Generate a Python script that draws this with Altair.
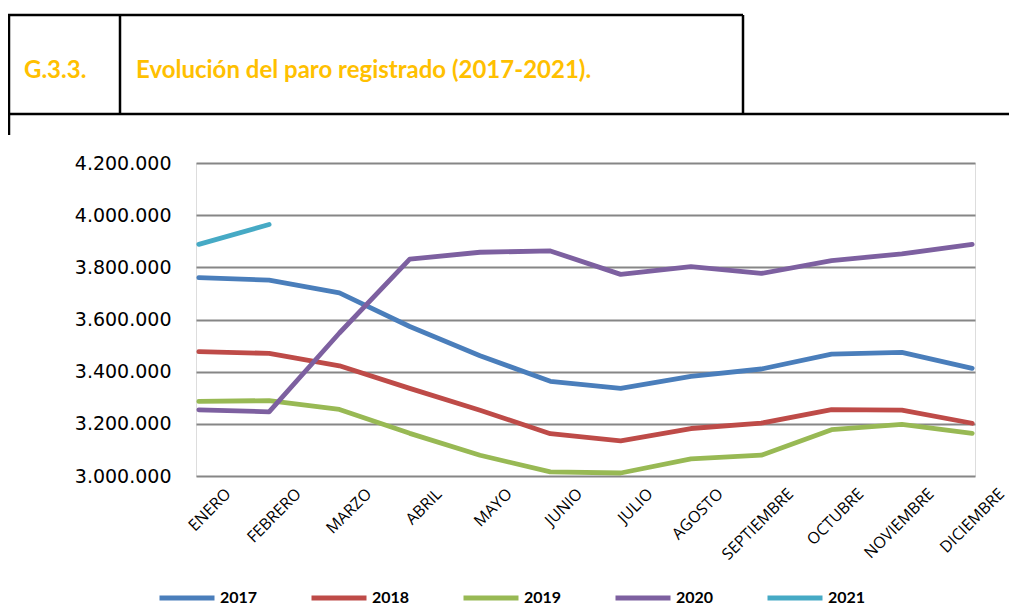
import altair as alt
import pandas as pd

months = ["ENERO", "FEBRERO", "MARZO", "ABRIL", "MAYO", "JUNIO", "JULIO",
          "AGOSTO", "SEPTIEMBRE", "OCTUBRE", "NOVIEMBRE", "DICIEMBRE"]
years = ["2017", "2018", "2019", "2020", "2021"]
colors = ["#4A7EBB", "#BE4B48", "#98B954", "#7D60A0", "#46AAC5"]

v2017 = [3760231, 3750876, 3702317, 3573036, 3461128, 3362811, 3335924,
         3382324, 3410182, 3467026, 3474281, 3412781]
v2018 = [3476528, 3470248, 3422551, 3335868, 3252130, 3162162, 3135021,
         3182068, 3202509, 3254845, 3252867, 3202297]
v2019 = [3285761, 3289040, 3255084, 3163566, 3079491, 3015686, 3011433,
         3065804, 3079711, 3177659, 3198184, 3163605]
v2020 = [3253853, 3246047, 3548312, 3831203, 3857776, 3862883, 3773034,
         3802814, 3776485, 3826043, 3851312, 3888137]
v2021 = [3888137, 3964353]

y_ticks = [3000000, 3200000, 3400000, 3600000, 3800000, 4000000, 4200000]

title_code = "G.3.3."
title_text = "Evolución del paro registrado (2017-2021)."

rows = []
for yr, vals in zip(years, [v2017, v2018, v2019, v2020, v2021]):
    for i, v in enumerate(vals):
        rows.append({"mes": months[i], "anio": yr, "valor": v, "orden": i})
df = pd.DataFrame(rows)

W, H = 779, 313

lines = alt.Chart(df).mark_line(strokeWidth=4.8, strokeCap="round", strokeJoin="round").encode(
    x=alt.X("mes:N", sort=months,
            scale=alt.Scale(type="point", padding=0.04),
            axis=alt.Axis(title=None, labelAngle=-45, labelFont="Open Sans", labelFontSize=16,
                          labelColor="#000000", labelAlign="right", labelBaseline="middle",
                          labelOffset=29, labelPadding=15, domain=False, ticks=False, grid=False)),
    y=alt.Y("valor:Q",
            scale=alt.Scale(domain=[3000000, 4200000], zero=False, nice=False),
            axis=alt.Axis(title=None, values=y_ticks, format=",d", grid=True,
                          gridColor="#868686", gridWidth=2, domain=False, ticks=False,
                          labelFont="DejaVu Sans", labelFontSize=19, labelColor="#000000",
                          labelPadding=25)),
    color=alt.Color("anio:N", scale=alt.Scale(domain=years, range=colors),
                    legend=alt.Legend(title=None, orient="none", direction="horizontal",
                                      columns=5, legendX=-39, legendY=405,
                                      symbolType="stroke", symbolSize=3025,
                                      symbolStrokeWidth=5, labelFont="Lato",
                                      labelFontWeight="bold", labelFontSize=16,
                                      labelColor="#000000", labelOffset=3,
                                      columnPadding=43, padding=0)),
    order="orden:Q",
)

one = pd.DataFrame({"k": [0]})
stroke = dict(color="#000000", strokeWidth=2.5)

def seg(x1, x2, y1, y2):
    return alt.Chart(one).mark_rule(**stroke).encode(
        x=alt.value(x1), x2=alt.value(x2), y=alt.value(y1), y2=alt.value(y2))

box = [
    seg(-188, 547, -148, -148),
    seg(-188, 813, -49, -49),
    seg(-187, -187, -148, -28),
    seg(-76, -76, -148, -49),
    seg(547, 547, -148, -49),
]

code_txt = alt.Chart(pd.DataFrame({"t": [title_code]})).mark_text(
    font="Lato", fontSize=24, fontWeight="bold", color="#FFC000", align="left",
    baseline="alphabetic").encode(text="t:N", x=alt.value(-172), y=alt.value(-85))
title_txt = alt.Chart(pd.DataFrame({"t": [title_text]})).mark_text(
    font="Lato", fontSize=24, fontWeight="bold", color="#FFC000", align="left",
    baseline="alphabetic").encode(text="t:N", x=alt.value(-60), y=alt.value(-85))

chart = alt.layer(lines, *box, code_txt, title_txt).properties(
    width=W, height=H,
    autosize=alt.AutoSizeParams(type="none"),
    padding={"left": 188, "top": 155, "right": 34, "bottom": 130},
).configure_view(stroke=None).configure(
    locale={"number": {"decimal": ",", "thousands": ".", "grouping": [3],
                       "currency": ["", " €"]}}
)

chart.save("out.html", embed_options={"renderer": "svg", "actions": False})
